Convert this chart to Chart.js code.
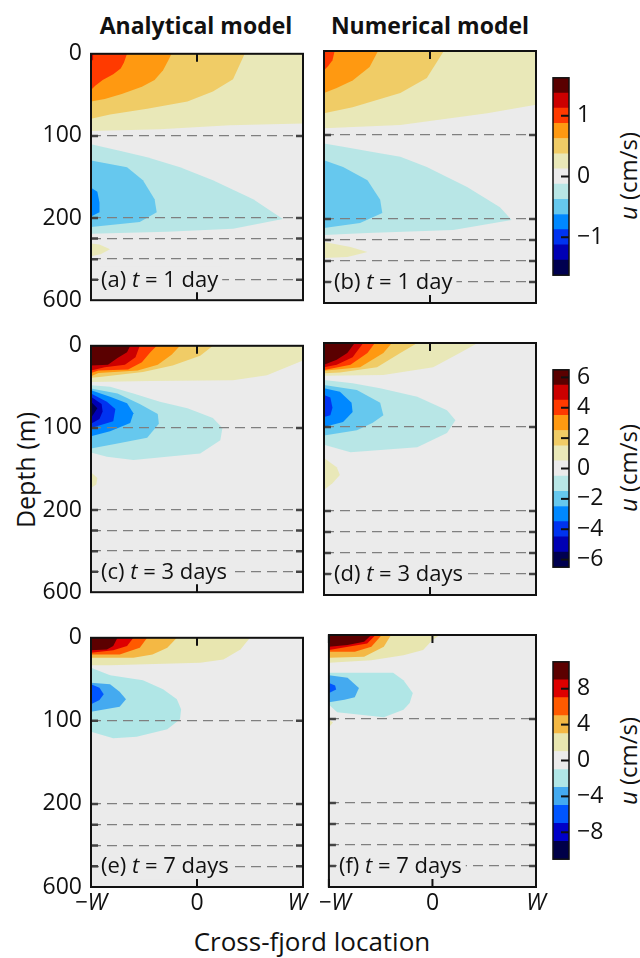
<!DOCTYPE html>
<html>
<head>
<meta charset="utf-8">
<script src="https://cdn.jsdelivr.net/npm/chart.js@4/dist/chart.umd.min.js"></script>
<style>
  body { margin: 0; width: 640px; height: 958px; background: #fff; position: relative; overflow: hidden;
         font-family: 'Open Sans', sans-serif; color: #111; }
  canvas { position: absolute; }
  .txt { position: absolute; white-space: nowrap; transform: translate(-50%, -50%); }
  .rot { transform: translate(-50%, -50%) rotate(-90deg); }
</style>
</head>
<body>
<div class="txt" style="left:196px; top:25px; font-weight:700; font-size:23px;">Analytical model</div>
<div class="txt" style="left:430px; top:25px; font-weight:700; font-size:23px;">Numerical model</div>
<div class="txt rot" style="left:25px; top:470px; font-size:25px;">Depth (m)</div>
<div class="txt" style="left:312px; top:941px; font-size:26px;">Cross-fjord location</div>
<div class="txt rot" style="left:627px; top:176px; font-size:24px;"><i>u</i> (cm/s)</div>
<div class="txt rot" style="left:627px; top:468px; font-size:24px;"><i>u</i> (cm/s)</div>
<div class="txt rot" style="left:627px; top:761px; font-size:24px;"><i>u</i> (cm/s)</div>
<script>
const FONT = "'Open Sans', sans-serif";
const GRAY = '#ebebeb';

// depth axis: 0-200 m linear, 200-600 m squeezed into the last third
const depthTicks = [0, 100, 200, 300, 400, 500, 600];
const depthLabels = [0, 100, 200, 600];
const xTicks = [-1, 0, 1];
// the inner labels are nudged apart where the two columns meet
const xTickLabelsLeft = ['\u2212W', '0', 'W\u2002'];
const xTickLabelsRight = ['\u2002\u2212W', '0', 'W'];

// colour bars (band edges in cm/s, bottom to top)
const cbEdges1 = [-1.625, -1.375, -1.125, -0.875, -0.625, -0.375, -0.125, 0.125, 0.375, 0.625, 0.875, 1.125, 1.375, 1.625];
const cbEdges2 = [-6.5, -5.5, -4.5, -3.5, -2.5, -1.5, -0.5, 0.5, 1.5, 2.5, 3.5, 4.5, 5.5, 6.5];
const cbEdges3 = [-11, -9, -7, -5, -3, -1, 1, 3, 5, 7, 9, 11];
const cbColors13 = ['#000050', '#0000b4', '#0033f0', '#0088ff', '#66c8ee', '#b8e6e6', '#ebebeb',
                    '#e9e8b8', '#f0cc66', '#ff9911', '#ff3a00', '#cc0000', '#5a0000'];
const cbColors11 = ['#000048', '#0000c8', '#0055ff', '#44aaf0', '#b0e6e6', '#ebebeb',
                    '#e8e6b0', '#f4b844', '#ff5a00', '#dd0000', '#5c0000'];
const cbTicks1 = [-1, 0, 1];
const cbTicks2 = [-6, -4, -2, 0, 2, 4, 6];
const cbTicks3 = [-8, -4, 0, 4, 8];

// contour regions: [u (cm/s), boundary as [x (W), depth (m)]]
const panelA = [
  [0.25, [[-1, 0], [1, 0], [1, 85], [0.31, 87], [-0.35, 92], [-1, 94]]],
  [0.5, [[-1, 0], [0.45, 0], [0.34, 31], [0.15, 46], [-0.09, 58], [-0.47, 67], [-0.82, 74], [-1, 79]]],
  [0.75, [[-1, 0], [-0.24, 0], [-0.27, 8], [-0.32, 20], [-0.40, 32], [-0.52, 40], [-0.71, 49], [-0.87, 55], [-1, 58]]],
  [1.0, [[-1, 0], [-0.66, 0], [-0.69, 11], [-0.72, 18], [-0.79, 25], [-0.89, 32], [-0.96, 39], [-1, 44]]],
  [1.25, [[-1, 0], [-0.98, 0], [-0.98, 8], [-1, 8]]],
  [-0.25, [[-1, 110], [-0.73, 118], [-0.47, 126], [-0.16, 138], [0.15, 154], [0.53, 177], [0.81, 205], [0.34, 252], [-0.28, 267], [-1, 276]]],
  [-0.5, [[-1, 130], [-0.66, 138], [-0.51, 154], [-0.40, 177], [-0.38, 193], [-0.54, 219], [-1, 243]]],
  [-0.75, [[-1, 163], [-0.94, 168], [-0.92, 181], [-0.92, 193], [-1, 198]]],
  [0.25, [[-1, 324], [-0.92, 329], [-0.82, 352], [-0.91, 376], [-1, 386]]]
];
const panelB = [
  [0.25, [[-1, 0], [1, 0], [1, 64], [0.54, 74], [-0.28, 88], [-1, 92]]],
  [0.5, [[-1, 0], [0.13, 0], [-0.03, 32], [-0.28, 50], [-0.73, 67], [-1, 74]]],
  [0.75, [[-1, 0], [-0.49, 0], [-0.57, 19], [-0.73, 35], [-0.88, 44], [-1, 50]]],
  [1.0, [[-1, 0], [-0.90, 0], [-0.92, 11], [-0.96, 18], [-1, 23]]],
  [-0.25, [[-1, 110], [-0.82, 114], [-0.50, 121], [-0.28, 126], [-0.03, 138], [0.35, 162], [0.66, 186], [0.77, 205], [0.22, 252], [-0.59, 267], [-1, 276]]],
  [-0.5, [[-1, 130], [-0.82, 138], [-0.59, 154], [-0.47, 177], [-0.45, 193], [-0.66, 219], [-1, 243]]],
  [0.25, [[-1, 310], [-0.75, 333], [-0.59, 357], [-0.78, 381], [-1, 386]]]
];
const panelC = [
  [1, [[-1, 0], [1, 0], [1, 18], [0.66, 36], [0.34, 42], [-0.44, 43], [-1, 44]]],
  [2, [[-1, 0], [0.15, 0], [0.03, 12], [-0.23, 24], [-0.51, 32], [-0.92, 38], [-1, 39]]],
  [3, [[-1, 0], [-0.16, 0], [-0.24, 11], [-0.37, 23], [-0.56, 30], [-0.93, 33], [-1, 37]]],
  [4, [[-1, 0], [-0.38, 0], [-0.44, 8], [-0.52, 20], [-0.65, 29], [-0.93, 30], [-1, 33]]],
  [5, [[-1, 0], [-0.54, 0], [-0.58, 14], [-0.68, 23], [-0.87, 26], [-1, 30]]],
  [6, [[-1, 0], [-0.63, 0], [-0.66, 8], [-0.75, 15], [-0.84, 23], [-1, 24]]],
  [-1, [[-1, 48], [-0.82, 50], [-0.60, 58], [-0.35, 68], [-0.09, 76], [0.15, 88], [0.24, 100], [0.22, 115], [0.03, 131], [-0.60, 139], [-0.85, 135], [-1, 130]]],
  [-2, [[-1, 52], [-0.75, 58], [-0.54, 71], [-0.37, 83], [-0.36, 95], [-0.47, 112], [-0.75, 119], [-1, 125]]],
  [-3, [[-1, 54], [-0.82, 62], [-0.66, 70], [-0.60, 82], [-0.63, 94], [-0.82, 104], [-1, 110]]],
  [-4, [[-1, 58], [-0.85, 68], [-0.77, 77], [-0.79, 92], [-1, 100]]],
  [-5, [[-1, 62], [-0.90, 71], [-0.89, 80], [-0.92, 89], [-1, 95]]],
  [-6, [[-1, 68], [-0.94, 76], [-1, 88]]],
  [1, [[-1, 154], [-0.94, 161], [-0.95, 169], [-1, 173]]]
];
const panelD = [
  [1, [[-1, 0], [0.45, 0], [0.28, 12], [0.03, 29], [-0.44, 38], [-1, 39]]],
  [2, [[-1, 0], [-0.12, 0], [-0.28, 12], [-0.50, 29], [-0.85, 35], [-1, 36]]],
  [3, [[-1, 0], [-0.36, 0], [-0.44, 12], [-0.66, 29], [-1, 33]]],
  [4, [[-1, 0], [-0.52, 0], [-0.59, 12], [-0.75, 26], [-1, 32]]],
  [5, [[-1, 0], [-0.63, 0], [-0.73, 17], [-0.88, 26], [-1, 29]]],
  [6, [[-1, 0], [-0.71, 0], [-0.78, 12], [-0.88, 20], [-1, 26]]],
  [-1, [[-1, 44], [-0.73, 48], [-0.47, 54], [-0.12, 64], [0.16, 80], [0.24, 92], [0.16, 107], [-0.12, 124], [-0.75, 130], [-1, 121]]],
  [-2, [[-1, 50], [-0.69, 56], [-0.47, 71], [-0.44, 86], [-0.54, 95], [-0.69, 104], [-1, 110]]],
  [-3, [[-1, 54], [-0.85, 58], [-0.74, 71], [-0.73, 82], [-0.82, 94], [-1, 100]]],
  [-4, [[-1, 62], [-0.94, 65], [-0.92, 77], [-0.94, 86], [-1, 88]]],
  [1, [[-1, 137], [-0.88, 148], [-0.85, 157], [-0.92, 167], [-1, 175]]]
];
const panelE = [
  [2, [[-1, 0], [0.50, 0], [0.41, 14], [0.25, 26], [0.03, 30], [-0.82, 33], [-1, 33]]],
  [4, [[-1, 0], [-0.19, 0], [-0.28, 12], [-0.42, 20], [-0.60, 24], [-1, 24]]],
  [6, [[-1, 0], [-0.47, 0], [-0.54, 12], [-0.73, 20], [-1, 20]]],
  [8, [[-1, 0], [-0.60, 0], [-0.66, 10], [-0.79, 15], [-1, 18]]],
  [10, [[-1, 0], [-0.75, 0], [-0.79, 10], [-0.85, 14], [-1, 15]]],
  [-2, [[-1, 36], [-0.82, 45], [-0.51, 51], [-0.32, 62], [-0.19, 74], [-0.15, 86], [-0.16, 98], [-0.28, 110], [-0.57, 119], [-0.79, 121], [-1, 113]]],
  [-4, [[-1, 54], [-0.82, 56], [-0.73, 65], [-0.67, 74], [-0.73, 83], [-1, 89]]],
  [-6, [[-1, 56], [-0.92, 60], [-0.88, 68], [-0.92, 75], [-1, 80]]]
];
const panelF = [
  [2, [[-1, 0], [0.07, 0], [0, 6], [-0.09, 18], [-0.28, 24], [-0.59, 30], [-1, 33]]],
  [4, [[-1, 0], [-0.40, 0], [-0.47, 14], [-0.66, 26], [-1, 27]]],
  [6, [[-1, 0], [-0.49, 0], [-0.59, 14], [-0.75, 20], [-1, 20]]],
  [8, [[-1, 0], [-0.55, 0], [-0.63, 10], [-1, 18]]],
  [10, [[-1, 0], [-0.59, 0], [-0.66, 8], [-0.82, 12], [-1, 14]]],
  [-2, [[-1, 45], [-0.38, 45], [-0.28, 54], [-0.19, 69], [-0.22, 81], [-0.28, 89], [-0.47, 98], [-0.92, 92], [-1, 83]]],
  [-4, [[-1, 48], [-0.82, 51], [-0.71, 63], [-0.75, 74], [-0.85, 77], [-1, 80]]],
  [-6, [[-1, 57], [-0.94, 60], [-0.93, 65], [-1, 69]]],
  [2, [[-1, 101], [-0.96, 104], [-1, 110]]]
];
const panelLetters = ['a', 'b', 'c', 'd', 'e', 'f'];
const panelDays = [1, 1, 3, 3, 7, 7];

// layout (pixels)
const colLefts = [91, 324];
const rowTops = [51, 343, 635];
const PW = 212, PH = 252;
const cbLeft = 553, cbWidth = 16, cbHeight = 201;
const cbTops = [76, 368, 660];

function depthToAxis(d) {
    return d <= 200 ? d / 100 : 2 + (d - 200) / 400;
}

function bandColor(edges, colors, v) {
    for (let i = 0; i < colors.length; i++) {
        if (v >= edges[i] && v < edges[i + 1]) return colors[i];
    }
    return GRAY;
}

function fmtSigned(v) {
    return v < 0 ? '\u2212' + Math.abs(v) : String(v);
}

function addCanvas(left, top, w, h) {
    const c = document.createElement('canvas');
    c.width = w;
    c.height = h;
    c.style.left = left + 'px';
    c.style.top = top + 'px';
    c.style.width = w + 'px';
    c.style.height = h + 'px';
    document.body.appendChild(c);
    return c;
}

// background, frame, inward ticks and the panel caption
const framePlugin = {
    id: 'frame',
    beforeDraw(chart, args, opts) {
        if (opts.kind !== 'panel') return;
        const { ctx, chartArea: a } = chart;
        ctx.save();
        ctx.fillStyle = GRAY;
        ctx.fillRect(a.left, a.top, a.width, a.height);
        ctx.restore();
    },
    afterDraw(chart, args, opts) {
        const { ctx, chartArea: a } = chart;
        ctx.save();
        if (opts.kind === 'panel') {
            const y = chart.scales.y;
            const x = chart.scales.x;
            // caption sits on the 500 m line
            const cy = y.getPixelForValue(depthToAxis(500));
            const cx = a.left + 10;
            const parts = [
                [`(${opts.letter}) `, 'normal'],
                ['t', 'italic'],
                [` = ${opts.days} day${opts.days > 1 ? 's' : ''}`, 'normal']
            ];
            let w = 0;
            parts.forEach(([s, st]) => { ctx.font = `${st} 22px ${FONT}`; w += ctx.measureText(s).width; });
            ctx.fillStyle = GRAY;
            ctx.fillRect(cx - 2, cy - 13, w + 6, 26);
            ctx.fillStyle = '#111';
            ctx.textBaseline = 'middle';
            let px = cx;
            parts.forEach(([s, st]) => {
                ctx.font = `${st} 22px ${FONT}`;
                ctx.fillText(s, px, cy + 1);
                px += ctx.measureText(s).width;
            });
            // inward ticks
            ctx.strokeStyle = '#444';
            ctx.lineWidth = 2.5;
            depthTicks.filter(d => d > 0 && d < 600).forEach(d => {
                const py = y.getPixelForValue(depthToAxis(d));
                ctx.beginPath();
                ctx.moveTo(a.left, py); ctx.lineTo(a.left + 7, py);
                ctx.moveTo(a.right - 7, py); ctx.lineTo(a.right, py);
                ctx.stroke();
            });
            ctx.strokeStyle = '#111';
            ctx.lineWidth = 2;
            xTicks.forEach(v => {
                const px2 = x.getPixelForValue(v);
                ctx.beginPath();
                ctx.moveTo(px2, a.top); ctx.lineTo(px2, a.top + 8);
                ctx.moveTo(px2, a.bottom); ctx.lineTo(px2, a.bottom - 8);
                ctx.stroke();
            });
            ctx.lineWidth = 2;
            ctx.strokeRect(a.left, a.top, a.width, a.height);
        } else {
            const y = chart.scales.y;
            ctx.strokeStyle = '#111';
            ctx.lineWidth = 2;
            opts.ticks.forEach(v => {
                const py = y.getPixelForValue(v);
                ctx.beginPath();
                ctx.moveTo(a.right - 8, py); ctx.lineTo(a.right, py);
                ctx.stroke();
            });
            ctx.lineWidth = 1.5;
            ctx.strokeRect(a.left, a.top, a.width, a.height);
        }
        ctx.restore();
    }
};

function createPanel(idx, polys, edges, colors) {
    const col = idx % 2;
    const row = Math.floor(idx / 2);
    const showY = col === 0;
    const showX = row === 2;
    const xLabels = col === 0 ? xTickLabelsLeft : xTickLabelsRight;
    const L = colLefts[col], T = rowTops[row];
    const canvasLeft = col === 0 ? 0 : L - 20;
    const canvas = addCanvas(canvasLeft, T - 20, L + PW + 20 - canvasLeft, PH + 20 + (showX ? 40 : 20));

    const datasets = polys.map(([v, pts]) => ({
        data: pts.map(([x, d]) => ({ x: x, y: depthToAxis(d) })),
        showLine: true,
        fill: 'shape',
        backgroundColor: bandColor(edges, colors, v),
        borderColor: 'transparent',
        borderWidth: 0,
        pointRadius: 0,
        tension: 0,
        order: -Math.abs(v)
    }));

    return new Chart(canvas, {
        type: 'scatter',
        data: { datasets: datasets },
        options: {
            responsive: false,
            animation: false,
            devicePixelRatio: 1,
            layout: { padding: { left: col === 0 ? 0 : 20, right: 20, top: 20, bottom: showX ? 0 : 20 } },
            plugins: {
                legend: { display: false },
                tooltip: { enabled: false },
                frame: { kind: 'panel', letter: panelLetters[idx], days: panelDays[idx] }
            },
            scales: {
                x: {
                    type: 'linear',
                    min: -1,
                    max: 1,
                    afterBuildTicks: (s) => { s.ticks = xTicks.map(v => ({ value: v })); },
                    afterFit: (s) => { s.height = showX ? 40 : 0; },
                    ticks: {
                        display: showX,
                        autoSkip: false,
                        maxRotation: 0,
                        padding: 3,
                        color: '#111',
                        callback: (v, i) => xLabels[i],
                        font: (c) => ({ family: FONT, size: 23, style: c.tick && c.tick.value !== 0 ? 'italic' : 'normal' })
                    },
                    grid: { display: false, drawTicks: false },
                    border: { display: false }
                },
                y: {
                    type: 'linear',
                    min: 0,
                    max: 3,
                    reverse: true,
                    afterBuildTicks: (s) => { s.ticks = depthTicks.map(d => ({ value: depthToAxis(d) })); },
                    afterFit: (s) => { s.width = showY ? L : 0; },
                    ticks: {
                        display: showY,
                        autoSkip: false,
                        padding: 9,
                        color: '#111',
                        font: { family: FONT, size: 23 },
                        callback: (v, i) => depthLabels.includes(depthTicks[i]) ? String(depthTicks[i]) : ''
                    },
                    grid: {
                        z: 1,
                        drawTicks: false,
                        lineWidth: 1.3,
                        color: (c) => (c.tick && c.tick.value > 0 && c.tick.value < 3) ? '#7f7f7f' : 'transparent'
                    },
                    border: { display: false, dash: [10, 6] }
                }
            }
        },
        plugins: [framePlugin]
    });
}

function createColorbar(row, edges, colors, ticks) {
    const T = cbTops[row];
    const canvas = addCanvas(cbLeft - 4, T - 20, 4 + cbWidth + 60, cbHeight + 40);
    const datasets = colors.map((c, i) => ({
        data: [[edges[i], edges[i + 1]]],
        backgroundColor: c,
        borderWidth: 0,
        barPercentage: 1,
        categoryPercentage: 1,
        grouped: false
    }));
    return new Chart(canvas, {
        type: 'bar',
        data: { labels: [''], datasets: datasets },
        options: {
            responsive: false,
            animation: false,
            devicePixelRatio: 1,
            layout: { padding: { left: 4, right: 0, top: 20, bottom: 20 } },
            plugins: {
                legend: { display: false },
                tooltip: { enabled: false },
                frame: { kind: 'cbar', ticks: ticks }
            },
            scales: {
                x: { display: false },
                y: {
                    position: 'right',
                    min: edges[0],
                    max: edges[edges.length - 1],
                    afterBuildTicks: (s) => { s.ticks = ticks.map(v => ({ value: v })); },
                    afterFit: (s) => { s.width = 60; },
                    ticks: {
                        autoSkip: false,
                        padding: 8,
                        color: '#111',
                        font: { family: FONT, size: 23 },
                        callback: (v) => fmtSigned(v)
                    },
                    grid: { display: false, drawTicks: false },
                    border: { display: false }
                }
            }
        },
        plugins: [framePlugin]
    });
}

createPanel(0, panelA, cbEdges1, cbColors13);
createPanel(1, panelB, cbEdges1, cbColors13);
createPanel(2, panelC, cbEdges2, cbColors13);
createPanel(3, panelD, cbEdges2, cbColors13);
createPanel(4, panelE, cbEdges3, cbColors11);
createPanel(5, panelF, cbEdges3, cbColors11);

createColorbar(0, cbEdges1, cbColors13, cbTicks1);
createColorbar(1, cbEdges2, cbColors13, cbTicks2);
createColorbar(2, cbEdges3, cbColors11, cbTicks3);
</script>
</body>
</html>
